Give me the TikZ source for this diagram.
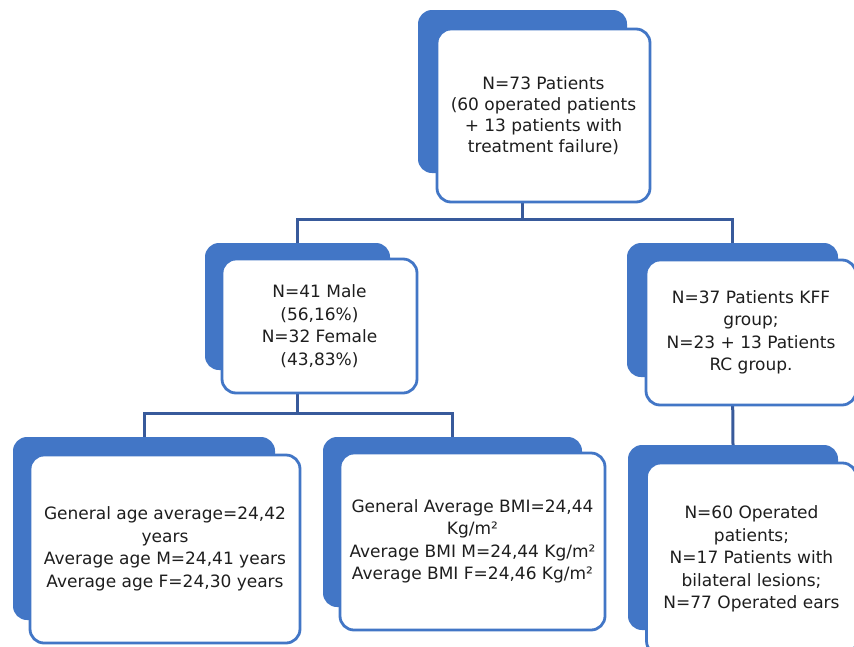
\documentclass[tikz,border=0pt]{standalone}
\usepackage{fontspec}
\setmainfont{DejaVu Sans}
\usepackage{tikz}
\definecolor{scheme}{RGB}{66,118,198}
\definecolor{schemeline}{RGB}{56,90,155}
\definecolor{txt}{RGB}{30,30,30}

\begin{document}
\begin{tikzpicture}[x=1pt,y=-1pt,
	back/.style={fill=scheme,draw=none,rounded corners=14pt,inner sep=0pt},
	front/.style={fill=white,draw=scheme,line width=2.8pt,rounded corners=14pt,inner sep=0pt,align=center,text=txt,font=\fontsize{17}{22.5}\selectfont},
	link/.style={draw=schemeline,line width=3pt}]
					\clip (0,0) rectangle (854,646);
					\fill[white] (0,0) rectangle (854,646);
					\coordinate (tb) at (522.5,91.5);
					\coordinate (tf) at (543.5,115.5);
					\coordinate (lb) at (297.5,306.5);
					\coordinate (lf) at (319.5,326);
					\coordinate (rb) at (732.5,310);
					\coordinate (rf) at (751,332.5);
					\coordinate (ab) at (144,528.5);
					\coordinate (af) at (165,549);
					\coordinate (mb) at (452.5,522);
					\coordinate (mf) at (472.5,541.5);
					\coordinate (eb) at (733,537.5);
					\coordinate (ef) at (751.5,559);
					\coordinate (bus1) at (522.5,219);
					\coordinate (bus2) at (297.5,413);

					\node (topback) at (tb) [back,minimum width=209pt,minimum height=163pt] {};
					\node (ageback) at (ab) [back,minimum width=262pt,minimum height=183pt] {};
					\node (bmiback) at (mb) [back,minimum width=259pt,minimum height=170pt] {};
					\node (sexback) at (lb) [back,minimum width=185pt,minimum height=127pt] {};
					\node (grpback) at (rb) [back,minimum width=211pt,minimum height=134pt] {};
					\node (earback) at (eb) [back,minimum width=210pt,minimum height=185pt] {};

					\draw[link] (topback.south) -- (bus1);
					\draw[link] (bus1) -| (sexback.north);
					\draw[link] (bus1) -| (grpback.north);
					\draw[link] (sexback.south) -- (bus2);
					\draw[link] (bus2) -| (ageback.north);
					\draw[link] (bus2) -| (bmiback.north);
					\draw[link] (grpback.south) -- (earback.north);

					\node (top) at (tf) [front,minimum width=213pt,minimum height=173pt,font=\fontsize{17}{21}\selectfont] {N=73 Patients\\(60 operated patients\\+ 13 patients with\\treatment failure)};
					\node (sex) at (lf) [front,minimum width=195pt,minimum height=134pt] {N=41 Male\\(56,16\%)\\N=32 Female\\(43,83\%)};
					\node (grp) at (rf) [front,minimum width=210pt,minimum height=145pt] {N=37 Patients KFF\\group;\\N=23 + 13 Patients\\RC group.};
					\node (age) at (af) [front,minimum width=270pt,minimum height=188pt] {General age average=24,42\\years\\Average age M=24,41 years\\Average age F=24,30 years};
					\node (bmi) at (mf) [front,minimum width=265pt,minimum height=177pt] {General Average BMI=24,44\\Kg/m²\\Average BMI M=24,44 Kg/m²\\Average BMI F=24,46 Kg/m²};
					\node (ear) at (ef) [front,minimum width=210pt,minimum height=192pt] {N=60 Operated\\patients;\\N=17 Patients with\\bilateral lesions;\\N=77 Operated ears};
				\end{tikzpicture}
\end{document}
